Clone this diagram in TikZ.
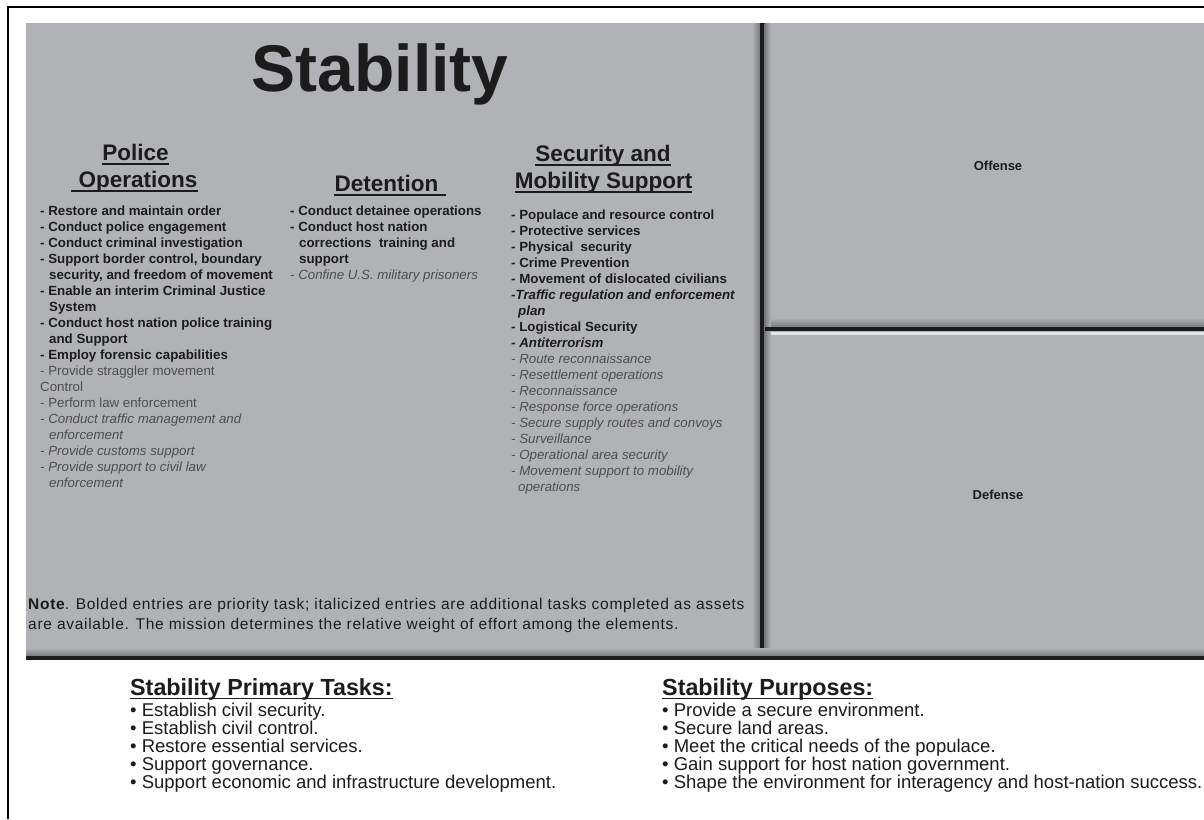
\documentclass[tikz,border=0pt]{standalone}
\usepackage{fontspec}
\setmainfont{Liberation Sans}
\newfontfamily\notefont{Liberation Sans}[LetterSpace=4.6]
\definecolor{panel}{HTML}{B1B2B6}
\definecolor{ink}{HTML}{1C1C1C}
\definecolor{soft}{HTML}{4E4E4E}
\definecolor{shade}{HTML}{7A7B7E}
\definecolor{hilite}{HTML}{E2E3E5}
\begin{document}
\begin{tikzpicture}[x=1pt,y=-1pt,
  itb/.style={anchor=mid west,inner sep=0pt,text=ink,font=\fontsize{13.3}{16}\selectfont\bfseries},
  itr/.style={anchor=mid west,inner sep=0pt,text=soft,font=\fontsize{13.3}{16}\selectfont},
  iti/.style={anchor=mid west,inner sep=0pt,text=soft,font=\fontsize{13.3}{16}\selectfont\itshape},
  itbi/.style={anchor=mid west,inner sep=0pt,text=ink,font=\fontsize{13.3}{16}\selectfont\bfseries\itshape},
  head/.style={anchor=base,inner sep=0pt,text=ink,font=\fontsize{22.5}{26}\selectfont\bfseries},
  bhead/.style={anchor=base west,inner sep=0pt,text=ink,font=\fontsize{23.3}{26}\selectfont\bfseries},
  bitem/.style={anchor=mid west,inner sep=0pt,text=ink,font=\fontsize{18.5}{20}\selectfont},
  uline/.style={line width=1.8pt,draw=ink},
  quad/.style={anchor=center,inner sep=0pt,text=ink,font=\fontsize{13}{16}\selectfont\bfseries},
  notetext/.style={anchor=mid west,inner sep=0pt,text=ink,font=\notefont\fontsize{15.5}{18}\selectfont},
  frame/.style={line width=2.5pt,draw=black}]
\useasboundingbox (0,0) rectangle (1204,819);
\fill[white] (0,0) rectangle (1204,819);
% outer frame
\draw[frame] (8,819) -- (8,7) -- (1204,7);
% gray panel
\fill[panel] (26,23) rectangle (1204,660);
% bevels: vertical divider
\shade[left color=panel,right color=shade] (752,23) rectangle (760,656);
\fill[ink] (760,23) rectangle (764.5,660);
\shade[left color=shade,right color=panel] (764.5,23) rectangle (771,656);
% bottom edge
\shade[top color=panel,bottom color=shade] (26,648) rectangle (1204,656);
\fill[ink] (26,655.5) rectangle (1204,660);
% right horizontal divider
\shade[top color=panel,bottom color=shade] (771,318) rectangle (1204,327);
\fill[ink] (764.5,327) rectangle (1204,331);
\fill[hilite] (771,332) rectangle (1204,334.5);
% title
\node[anchor=base,inner sep=0pt,text=ink,font=\fontsize{66}{70}\selectfont\bfseries] (title) at (380,91) {Stability};
% headers
\node[head] (hpol) at (135.5,160) {Police};
\node[head] (hops) at (138,187) {Operations};
\node[head] (hdet) at (386.5,191) {Detention};
\node[head] (hsec) at (603,161) {Security and};
\node[head] (hmob) at (603.5,188) {Mobility Support};
\draw[uline] ([yshift=-4pt]hpol.base west) -- ([yshift=-4pt]hpol.base east);
\draw[uline] ([yshift=-4pt,xshift=-7pt]hops.base west) -- ([yshift=-4pt]hops.base east);
\draw[uline] ([yshift=-4pt]hdet.base west) -- ([yshift=-4pt,xshift=7pt]hdet.base east);
\draw[uline] ([yshift=-4pt]hsec.base west) -- ([yshift=-4pt]hsec.base east);
\draw[uline] ([yshift=-4pt]hmob.base west) -- ([yshift=-4pt]hmob.base east);
% police operations
\foreach \x/\y/\t [count=\i] in {40/213/{- Restore and maintain order},40/229/{- Conduct police engagement},40/245/{- Conduct criminal investigation},40/261/{- Support border control, boundary},49/277/{security, and freedom of movement},40/293/{- Enable an interim Criminal Justice},49/309/{System},40/325/{- Conduct host nation police training},49/341/{and Support},40/357/{- Employ forensic capabilities}}
  \node[itb] (pb\i) at (\x,\y) {\t};
\foreach \x/\y/\t [count=\i] in {40/373/{- Provide straggler movement},40/389/{Control},40/405/{- Perform law enforcement}}
  \node[itr] (pr\i) at (\x,\y) {\t};
\foreach \x/\y/\t [count=\i] in {40/421/{- Conduct traffic management and},49/437/{enforcement},40/453/{- Provide customs support},40/469/{- Provide support to civil law},49/485/{enforcement}}
  \node[iti] (pi\i) at (\x,\y) {\t};
% detention
\foreach \x/\y/\t [count=\i] in {290/213/{- Conduct detainee operations},290/229/{- Conduct host nation},299/245/{corrections\ \ training and},299/261/{support}}
  \node[itb] (db\i) at (\x,\y) {\t};
\node[iti] (di1) at (290,277) {- Confine U.S. military prisoners};
% security and mobility support
\foreach \x/\y/\t [count=\i] in {511/217/{- Populace and resource control},511/233/{- Protective services},511/249/{- Physical\ \ security},511/265/{- Crime Prevention},511/281/{- Movement of dislocated civilians},511/329/{- Logistical Security}}
  \node[itb] (sb\i) at (\x,\y) {\t};
\foreach \x/\y/\t [count=\i] in {511/297/{-Traffic regulation and enforcement},518/313/{plan},511/345/{- Antiterrorism}}
  \node[itbi] (sbi\i) at (\x,\y) {\t};
\foreach \x/\y/\t [count=\i] in {511/361/{- Route reconnaissance},511/377/{- Resettlement operations},511/393/{- Reconnaissance},511/409/{- Response force operations},511/425/{- Secure supply routes and convoys},511/441/{- Surveillance},511/457/{- Operational area security},511/473/{- Movement support to mobility},518/489/{operations}}
  \node[iti] (si\i) at (\x,\y) {\t};
% note
\node[notetext] (note1) at (28,607) {\textbf{Note}. Bolded entries are priority task; italicized entries are additional tasks completed as assets};
\node[notetext] (note2) at (28,627) {are available. The mission determines the relative weight of effort among the elements.};
% offense / defense
\node[quad] (off) at (998,166) {Offense};
\node[quad] (def) at (998,495) {Defense};
% bottom lists
\node[bhead] (tasks) at (130,695) {Stability Primary Tasks:};
\draw[uline,line width=1.6pt] ([yshift=-3.5pt]tasks.base west) -- ([yshift=-3.5pt]tasks.base east);
\foreach \y/\t [count=\i] in {714/{• Establish civil security.},732/{• Establish civil control.},750/{• Restore essential services.},768/{• Support governance.},786/{• Support economic and infrastructure development.}}
  \node[bitem] (tk\i) at (130,\y) {\t};
\node[bhead] (purp) at (662,695) {Stability Purposes:};
\draw[uline,line width=1.6pt] ([yshift=-3.5pt]purp.base west) -- ([yshift=-3.5pt]purp.base east);
\foreach \y/\t [count=\i] in {714/{• Provide a secure environment.},732/{• Secure land areas.},750/{• Meet the critical needs of the populace.},768/{• Gain support for host nation government.},786/{• Shape the environment for interagency and host-nation success.}}
  \node[bitem] (pp\i) at (662,\y) {\t};
\end{tikzpicture}
\end{document}
